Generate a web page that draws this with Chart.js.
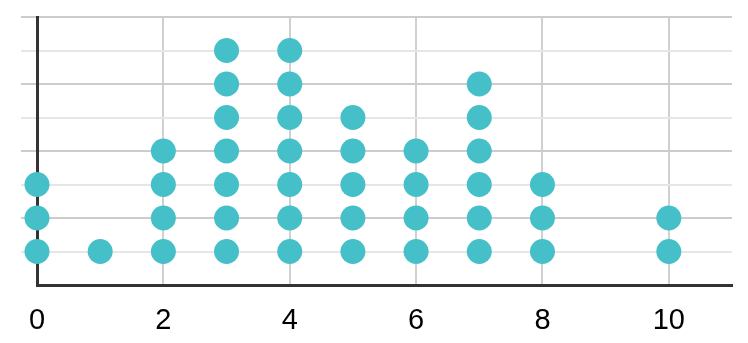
<!DOCTYPE html>
<html>
<head>
<meta charset="utf-8">
<script src="https://cdn.jsdelivr.net/npm/chart.js@4/dist/chart.umd.min.js"></script>
<style>
  html, body { margin: 0; padding: 0; background: #fff; }
  #dotPlot { display: block; }
</style>
</head>
<body>
<canvas id="dotPlot" width="748" height="343"></canvas>
<script>
// |------------------------------- Chart.js - Dot Plot -------------------------------|

var values = [0, 1, 2, 3, 4, 5, 6, 7, 8, 9, 10];
var counts = [3, 1, 4, 7, 7, 5, 4, 6, 3, 0, 2];
var xTicks = [0, 2, 4, 6, 8, 10];

// stack one dot per observation
var dots = [];
values.forEach(function (v, i) {
  for (var k = 1; k <= counts[i]; k++) {
    dots.push({ x: v, y: k });
  }
});

var ctx = document.getElementById('dotPlot').getContext('2d');
var dotPlot = new Chart(ctx, {
  type: 'scatter',
  data: {
    datasets: [{
      label: 'Count',
      data: dots,
      backgroundColor: '#45c0c8',
      borderWidth: 0,
      pointRadius: 12.5,
      pointHoverRadius: 12.5,
      clip: false
    }]
  },
  options: {
    responsive: false,
    animation: false,
    layout: {
      padding: { top: 17, right: 16, left: 0, bottom: 0 }
    },
    scales: {
      x: {
        type: 'linear',
        min: 0,
        max: 11,
        afterBuildTicks: function (scale) {
          scale.ticks = xTicks.map(function (v) { return { value: v }; });
        },
        afterFit: function (scale) { scale.height = 58; },
        border: { display: true, color: '#333333', width: 3 },
        grid: {
          drawTicks: false,
          lineWidth: 2,
          color: function (c) {
            return c.tick && c.tick.value === 0 ? 'rgba(0,0,0,0)' : '#d0d0d0';
          }
        },
        ticks: {
          padding: 19,
          color: '#000',
          font: { family: 'Arial, "Liberation Sans", sans-serif', size: 29 }
        }
      },
      y: {
        type: 'linear',
        min: 0,
        max: 8,
        afterFit: function (scale) { scale.width = 37; },
        border: { display: true, color: '#333333', width: 3 },
        grid: {
          drawTicks: true,
          tickLength: 16,
          lineWidth: 2,
          color: function (c) {
            if (!c.tick || c.tick.value === 0) return 'rgba(0,0,0,0)';
            return c.tick.value % 2 === 0 ? '#cccccc' : '#e6e6e6';
          }
        },
        ticks: {
          stepSize: 1,
          display: false
        }
      }
    },
    plugins: {
      legend: { display: false },
      tooltip: { enabled: true }
    }
  }
});
</script>
</body>
</html>
